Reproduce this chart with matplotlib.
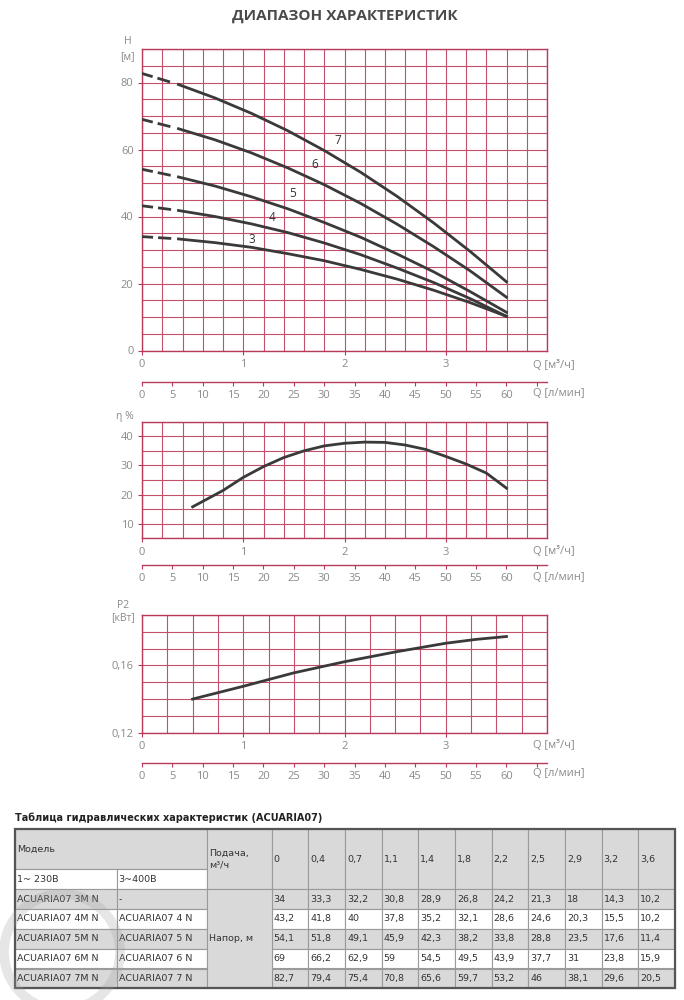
import numpy as np
import matplotlib.pyplot as plt
from matplotlib.patches import Rectangle, Circle

# ---- data ----
# flow steps of the table (l/min) and how the table prints them in m3/h
FLOW_LMIN = [0, 6, 12, 18, 24, 30, 36, 42, 48, 54, 60]
FLOW_LABELS = ["0", "0,4", "0,7", "1,1", "1,4", "1,8", "2,2", "2,5", "2,9", "3,2", "3,6"]
HEAD_3 = [34, 33.3, 32.2, 30.8, 28.9, 26.8, 24.2, 21.3, 18, 14.3, 10.2]
HEAD_4 = [43.2, 41.8, 40, 37.8, 35.2, 32.1, 28.6, 24.6, 20.3, 15.5, 10.2]
HEAD_5 = [54.1, 51.8, 49.1, 45.9, 42.3, 38.2, 33.8, 28.8, 23.5, 17.6, 11.4]
HEAD_6 = [69, 66.2, 62.9, 59, 54.5, 49.5, 43.9, 37.7, 31, 23.8, 15.9]
HEAD_7 = [82.7, 79.4, 75.4, 70.8, 65.6, 59.7, 53.2, 46, 38.1, 29.6, 20.5]
CURVE_NAMES = ["3", "4", "5", "6", "7"]
MODELS_1PH = ["ACUARIA07 3M N", "ACUARIA07 4M N", "ACUARIA07 5M N",
              "ACUARIA07 6M N", "ACUARIA07 7M N"]
MODELS_3PH = ["-", "ACUARIA07 4 N", "ACUARIA07 5 N", "ACUARIA07 6 N", "ACUARIA07 7 N"]

EFF_Q = [0.5, 0.8, 1.0, 1.2, 1.4, 1.6, 1.8, 2.0, 2.2, 2.4, 2.6, 2.8, 3.0, 3.2, 3.4, 3.6]
EFF_VAL = [15.8, 21.4, 25.9, 29.6, 32.7, 35.0, 36.7, 37.6, 38.0, 37.9, 37.0, 35.5,
           33.1, 30.5, 27.4, 22.2]

P2_Q = [0.5, 1.0, 1.5, 2.0, 2.5, 3.0, 3.3, 3.6]
P2_VAL = [0.140, 0.1476, 0.1556, 0.1622, 0.168, 0.1732, 0.1755, 0.1772]

LMIN_TICKS = [0, 5, 10, 15, 20, 25, 30, 35, 40, 45, 50, 55, 60, 65]

# label spots for curve numbers (Q, H)
LABEL_POS = [(1.08, 33.2), (1.28, 39.8), (1.49, 46.8), (1.71, 55.5), (1.93, 62.7)]

GRID = "#c24f6c"
RED = "#b83a5a"
TXT = "#8a8a8a"
CURVE = "#3a3a3a"
W, H = 684, 1000

plt.rcParams['font.family'] = ['Open Sans', 'DejaVu Sans']
plt.rcParams['lines.scale_dashes'] = False


def fx(x):
    return x / W


def fy(y):
    return 1 - y / H


def frame(ax, ylo, yhi, ystep, xstep, yticks, ylabels, lmin_loc, q_y, lmin_y):
    ax.set_xlim(0, 4)
    ax.set_ylim(ylo, yhi)
    ax.set_xticks(np.arange(0, 4.0001, xstep), minor=True)
    ax.set_yticks(np.arange(ylo, yhi + ystep / 2, ystep), minor=True)
    ax.set_xticks([0, 1, 2, 3])
    ax.set_yticks(yticks)
    ax.set_yticklabels(ylabels)
    ax.grid(which='both', color=GRID, lw=0.8)
    ax.tick_params(which='minor', length=0)
    ax.tick_params(which='major', direction='out', length=3, width=0.8, color=RED,
                   labelcolor=TXT, labelsize=8, pad=3)
    for s in ax.spines.values():
        s.set_color(RED)
        s.set_linewidth(1.0)
    ax.set_axisbelow(True)

    sec = ax.secondary_xaxis(lmin_loc, functions=(lambda q: q * 1000 / 60,
                                                  lambda l: l * 60 / 1000))
    sec.set_xticks(LMIN_TICKS)
    sec.set_xticklabels([str(v) if v <= 60 else "" for v in LMIN_TICKS])
    sec.spines['bottom'].set_color(RED)
    sec.spines['bottom'].set_linewidth(1.0)
    sec.tick_params(direction='out', length=3, width=0.8, color=RED,
                    labelcolor=TXT, labelsize=8, pad=3)

    fig.text(fx(533), fy(q_y), "Q [м³/ч]", color=TXT, fontsize=8, va='center')
    fig.text(fx(533), fy(lmin_y), "Q [л/мин]", color=TXT, fontsize=8, va='center')


fig = plt.figure(figsize=(W / 100, H / 100), dpi=100)
fig.text(fx(345), fy(16), "ДИАПАЗОН ХАРАКТЕРИСТИК", ha='center', va='center',
         fontsize=11, fontweight='bold', color='#4a4a4a')

# ---- head curves ----
flow_q = np.array(FLOW_LMIN) * 60 / 1000
left, width = fx(142), fx(547) - fx(142)
ax1 = fig.add_axes([left, fy(350.5), width, fy(49) - fy(350.5)])
frame(ax1, 0, 90, 5, 0.2, [0, 20, 40, 60, 80], ["0", "20", "40", "60", "80"],
      -0.1035, 365, 393)
for head in [HEAD_3, HEAD_4, HEAD_5, HEAD_6, HEAD_7]:
    ax1.plot(flow_q[:2], head[:2], color=CURVE, lw=2,
             linestyle=(0, (8, 3.6, 9.5, 30)), zorder=3, dash_capstyle='butt')
    ax1.plot(flow_q[1:], head[1:], color=CURVE, lw=2, zorder=3,
             solid_joinstyle='round')
for name, (q, h) in zip(CURVE_NAMES, LABEL_POS):
    ax1.text(q, h, name, color='#333333', fontsize=8.5, ha='center', va='center')
fig.text(fx(128), fy(41), "H", color=TXT, fontsize=7.5, ha='center', va='center')
fig.text(fx(127), fy(57), "[м]", color=TXT, fontsize=7.5, ha='center', va='center')

# ---- efficiency ----
ax2 = fig.add_axes([left, fy(538.3), width, fy(421.7) - fy(538.3)])
frame(ax2, 5, 45, 5, 0.2, [10, 20, 30, 40], ["10", "20", "30", "40"],
      -0.229, 552, 578)
ax2.plot(EFF_Q, EFF_VAL, color=CURVE, lw=2, zorder=3, solid_joinstyle='round')
fig.text(fx(125), fy(417), "η %", color=TXT, fontsize=7.5, ha='center', va='center')

# ---- power ----
ax3 = fig.add_axes([left, fy(732.7), width, fy(615) - fy(732.7)])
frame(ax3, 0.12, 0.19, 0.01, 0.25, [0.12, 0.16], ["0,12", "0,16"],
      -0.255, 746, 774)
ax3.plot(P2_Q, P2_VAL, color=CURVE, lw=2, zorder=3, solid_joinstyle='round')
fig.text(fx(123), fy(606), "P2", color=TXT, fontsize=7.5, ha='center', va='center')
fig.text(fx(123), fy(618), "[кВт]", color=TXT, fontsize=7.5, ha='center', va='center')

# ---- table ----
tab = fig.add_axes([0, 0, 1, fy(800)])
tab.set_xlim(0, W)
tab.set_ylim(1000, 800)
tab.axis('off')

GRAY = "#d9d9d9"
LINE = "#9a9a9a"
TFONT = dict(family=['DejaVu Sans'], fontsize=6.8, color='#333333', va='center')

fig.text(fx(15), fy(818), "Таблица гидравлических характеристик (ACUARIA07)",
         family=['DejaVu Sans'], fontsize=7, fontweight='bold', color='#222222',
         va='center')

x0, c1, c2, c3, x_end = 15, 116.7, 207.3, 271.7, 675
y0, y_mid, y_hdr = 829, 869.3, 889.3
row_h = (988.3 - y_hdr) / 5
col_w = (x_end - c3) / len(FLOW_LABELS)


def cell(x, y, w, h, fc, text=None, **kw):
    tab.add_patch(Rectangle((x, y), w, h, facecolor=fc, edgecolor=LINE, lw=0.8))
    if text is not None:
        tab.text(x + 2, y + h / 2, text, **TFONT, **kw)


cell(x0, y0, c2 - x0, y_mid - y0, GRAY, "Модель")
cell(x0, y_mid, c1 - x0, y_hdr - y_mid, "white", "1~ 230В")
cell(c1, y_mid, c2 - c1, y_hdr - y_mid, "white", "3~400В")
cell(c2, y0, c3 - c2, y_hdr - y0, GRAY, "Подача,\nм³/ч", linespacing=1.4)
for j, lab in enumerate(FLOW_LABELS):
    cell(c3 + j * col_w, y0, col_w, y_hdr - y0, GRAY, lab)

heads = [HEAD_3, HEAD_4, HEAD_5, HEAD_6, HEAD_7]
for i in range(5):
    y = y_hdr + i * row_h
    fc = GRAY if i % 2 == 0 else "white"
    cell(x0, y, c1 - x0, row_h, fc, MODELS_1PH[i])
    cell(c1, y, c2 - c1, row_h, fc, MODELS_3PH[i])
    for j, v in enumerate(heads[i]):
        cell(c3 + j * col_w, y, col_w, row_h, fc, f"{v:g}".replace(".", ","))
cell(c2, y_hdr, c3 - c2, 5 * row_h, GRAY, "Напор, м")
tab.add_patch(Rectangle((x0, y0), x_end - x0, 988.3 - y0, facecolor='none',
                        edgecolor='#555555', lw=1.6))

# faint watermark ring over the left part of the table
tab.add_patch(Circle((62, 952), 58, facecolor='none', edgecolor='#9e9e9e',
                     lw=7, alpha=0.25, zorder=5))

fig.savefig("out.png", dpi=100)
